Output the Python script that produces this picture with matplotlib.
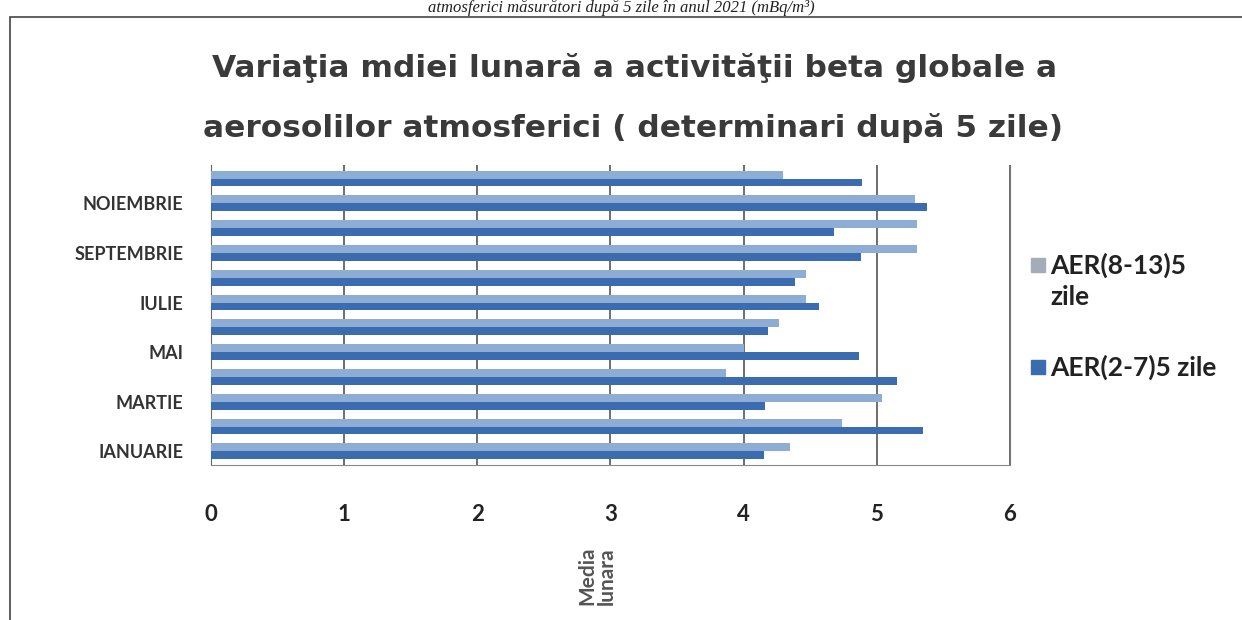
"""Monthly mean beta activity of atmospheric aerosols, horizontal bar chart."""
import matplotlib
matplotlib.use('Agg')
import matplotlib.pyplot as plt
import matplotlib.patches as mpatches
import numpy as np

months = ['IANUARIE', 'FEBRUARIE', 'MARTIE', 'APRILIE', 'MAI', 'IUNIE',
          'IULIE', 'AUGUST', 'SEPTEMBRIE', 'OCTOMBRIE', 'NOIEMBRIE', 'DECEMBRIE']
aer_8_13 = [4.35, 4.74, 5.04, 3.87, 4.00, 4.27, 4.47, 4.47, 5.30, 5.30, 5.29, 4.30]
aer_2_7 = [4.15, 5.35, 4.16, 5.15, 4.87, 4.18, 4.57, 4.39, 4.88, 4.68, 5.38, 4.89]
series_labels = ['AER(8-13)5\nzile', 'AER(2-7)5 zile']
x_ticks = [0, 1, 2, 3, 4, 5, 6]

light = '#8eadd4'
dark = '#3b6cb0'

fig = plt.figure(figsize=(12.42, 6.2), dpi=100)
ax = fig.add_axes([0.170, 0.25, 0.643, 0.484])

y = np.arange(len(months))
h = 0.32
ax.barh(y + h / 2, aer_8_13, height=h, color=light, label=series_labels[0], zorder=3)
ax.barh(y - h / 2, aer_2_7, height=h, color=dark, label=series_labels[1], zorder=3)

ax.set_xlim(0, 6)
ax.set_ylim(-0.55, 11.55)
ax.set_xticks(x_ticks)
ax.set_xticklabels([str(t) for t in x_ticks], fontsize=16, fontweight='bold',
                   family='Lato', color='#222222')
ax.set_yticks(y[::2])
ax.set_yticklabels(months[::2], fontsize=13, fontweight='bold', family='Lato',
                   color='#333333')
ax.tick_params(axis='x', length=0, pad=28)
ax.tick_params(axis='y', length=0, pad=20)
ax.grid(axis='x', color='#555555', linewidth=1.2, zorder=1)
ax.spines['top'].set_visible(False)
ax.spines['left'].set_color('#666666')
ax.spines['bottom'].set_color('#888888')
ax.spines['right'].set_color('#777777')

# legend on the right, drawn by hand so the swatch sits on the first line
leg_font = {'family': 'Lato', 'weight': 'bold', 'size': 19, 'color': '#222222'}
swatches = ['#a3adb8', dark]
label_y = [1 - 265 / 620, 1 - 367 / 620]
for col, lab, ly in zip(swatches, series_labels, label_y):
    fig.add_artist(mpatches.Rectangle((1031 / 1242, ly - 7 / 620), 14 / 1242, 14 / 620,
                                      transform=fig.transFigure, color=col))
    fig.text(1050 / 1242, ly + 12 / 620, lab, ha='left', va='top',
             linespacing=1.35, **leg_font)

# titles
fig.text(0.511, 1 - 68 / 620, 'Variaţia mdiei lunară a activităţii beta globale a',
         ha='center', va='center', fontsize=22.5, fontweight='bold', color='#3a3a3a')
fig.text(0.510, 1 - 128 / 620, 'aerosolilor atmosferici ( determinari după 5 zile)',
         ha='center', va='center', fontsize=22.5, fontweight='bold', color='#3a3a3a')

# caption line above the frame
fig.text(0.50, 1 - 16 / 620, 'atmosferici măsurători după 5 zile în anul 2021 (mBq/m³)',
         ha='center', va='bottom', fontsize=12, style='italic',
         family='Liberation Serif', color='#222222')

# axis title under the ticks
fig.text(597 / 1242, 1 - 576 / 620, 'Media\nlunara', rotation=90, ha='center',
         va='center', fontsize=15, fontweight='bold', family='Lato', color='#555555',
         linespacing=0.95)

# outer frame of the scanned chart
frame = mpatches.Rectangle((10 / 1242, -0.05), 1.1, 1 - 17 / 620 + 0.05,
                           transform=fig.transFigure, fill=False,
                           edgecolor='#444444', linewidth=1.2)
fig.add_artist(frame)

fig.savefig('out.png', dpi=100)
